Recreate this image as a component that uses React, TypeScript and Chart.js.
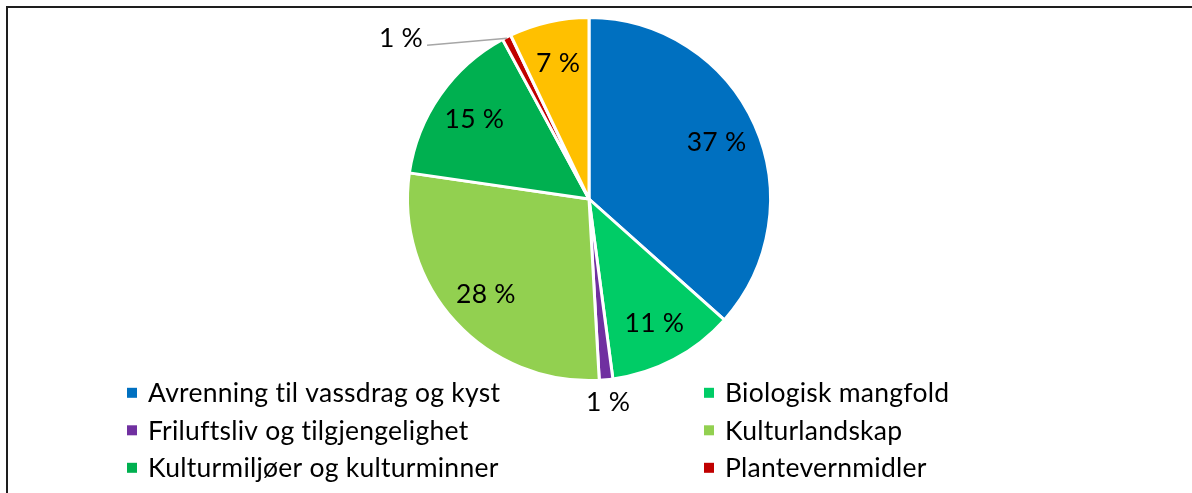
import React, { useEffect, useRef } from "react";
import { Chart, registerables } from "chart.js";

Chart.register(...registerables);

const categories = [
  "Avrenning til vassdrag og kyst",
  "Biologisk mangfold",
  "Friluftsliv og tilgjengelighet",
  "Kulturlandskap",
  "Kulturmiljøer og kulturminner",
  "Plantevernmidler",
  "Annet",
];
const shares = [36.6, 11.3, 1.2, 28.2, 14.8, 0.8, 7.1];
const colors = ["#0070C0", "#00CC66", "#7030A0", "#92D050", "#00B050", "#C00000", "#FFC000"];

const FONT_FAMILY = "Lato, 'Open Sans', sans-serif";
const FONT_SIZE = 26.5;

const overlayPlugin = {
  id: "overlay",
  beforeDraw(chart: any) {
    const ctx = chart.ctx;
    ctx.save();
    ctx.fillStyle = "#ffffff";
    ctx.fillRect(0, 0, chart.width, chart.height);
    ctx.restore();
  },
  afterDatasetsDraw(chart: any) {
    const ctx = chart.ctx;
    const meta = chart.getDatasetMeta(0);
    const data: number[] = chart.data.datasets[0].data;
    const total = data.reduce((a, b) => a + b, 0);
    const capOffset = FONT_SIZE * 0.35;
    ctx.save();
    ctx.font = `${FONT_SIZE}px ${FONT_FAMILY}`;
    try {
      (ctx as any).letterSpacing = "0.25px";
    } catch (e) {}
    ctx.fillStyle = "#000000";
    ctx.textAlign = "center";
    ctx.textBaseline = "alphabetic";
    meta.data.forEach((arc: any, i: number) => {
      const p = arc.getProps(["x", "y", "startAngle", "endAngle", "outerRadius"], true);
      const mid = (p.startAngle + p.endAngle) / 2;
      const pct = (data[i] / total) * 100;
      const text = `${Math.round(pct)} %`;
      if (pct >= 5) {
        const r = p.outerRadius * 0.77;
        ctx.fillText(text, p.x + Math.cos(mid) * r, p.y + Math.sin(mid) * r + capOffset);
      } else if (Math.sin(mid) > 0) {
        const r = p.outerRadius + 22;
        ctx.fillText(text, p.x + Math.cos(mid) * r, p.y + Math.sin(mid) * r + capOffset);
      } else {
        const ex = p.x + Math.cos(mid) * (p.outerRadius - 1);
        const ey = p.y + Math.sin(mid) * (p.outerRadius - 1);
        const lx = ex - 80;
        const ly = ey + 7;
        ctx.strokeStyle = "#A6A6A6";
        ctx.lineWidth = 1.5;
        ctx.beginPath();
        ctx.moveTo(ex, ey);
        ctx.lineTo(lx, ly);
        ctx.stroke();
        ctx.textAlign = "right";
        ctx.fillText(text, lx - 4, ey + capOffset);
        ctx.textAlign = "center";
      }
    });

    // legend, two columns
    const colX = [127, 704];
    const rowY0 = 392.8;
    const rowH = 37.5;
    ctx.textAlign = "left";
    chart.data.labels.forEach((label: string, i: number) => {
      const col = i % 2;
      const row = Math.floor(i / 2);
      const cy = rowY0 + row * rowH;
      ctx.fillStyle = colors[i];
      ctx.fillRect(colX[col], cy - 5, 10, 10);
      ctx.fillStyle = "#000000";
      ctx.fillText(label, colX[col] + 21, cy + capOffset);
    });

    // frame
    ctx.fillStyle = "#1e1e1e";
    ctx.fillRect(6, 6, chart.width - 6, 2);
    ctx.fillRect(6, 6, 2, chart.height - 6);
    ctx.restore();
  },
};

export default function App() {
  const canvasRef = useRef<HTMLCanvasElement | null>(null);

  useEffect(() => {
    if (!canvasRef.current) return;
    const chart = new Chart(canvasRef.current, {
      type: "pie",
      data: {
        labels: categories,
        datasets: [
          {
            data: shares,
            backgroundColor: colors,
            borderColor: "#ffffff",
            borderWidth: 3,
          },
        ],
      },
      options: {
        responsive: false,
        animation: false,
        layout: { padding: { top: 16, bottom: 111, left: 406, right: 420 } },
        plugins: {
          legend: { display: false },
          tooltip: { enabled: false },
        },
      },
      plugins: [overlayPlugin],
    });
    return () => chart.destroy();
  }, []);

  return (
    <div style={{ position: "fixed", left: 0, top: 0, width: 1192, height: 493, background: "#fff" }}>
      <canvas ref={canvasRef} width={1192} height={493} style={{ width: 1192, height: 493 }} />
    </div>
  );
}
